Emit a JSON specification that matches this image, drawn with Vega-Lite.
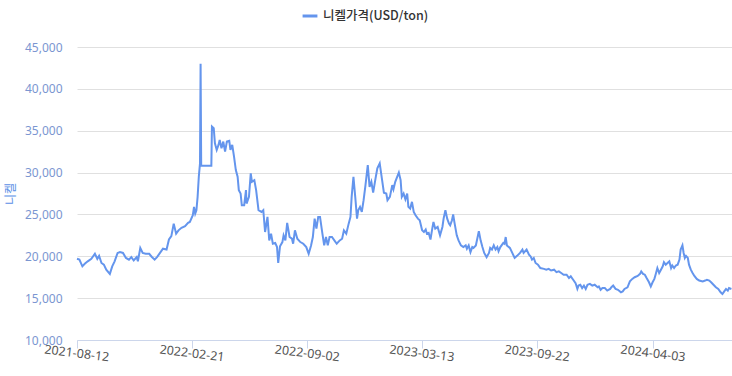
{
  "$schema": "https://vega.github.io/schema/vega-lite/v6.json",
  "autosize": "none",
  "width": 655,
  "height": 293,
  "padding": {"left": 77, "top": 47, "right": 0, "bottom": 36},
  "background": "#ffffff",
  "config": {"view": {"stroke": null}, "font": "Noto Sans"},
  "data": {"values": [
{"date":"2021-08-12","price":19700},{"date":"2021-08-16","price":19600},{"date":"2021-08-21","price":18800},{"date":"2021-08-25","price":19100},{"date":"2021-08-30","price":19400},{"date":"2021-09-05","price":19700},{"date":"2021-09-11","price":20300},{"date":"2021-09-15","price":19700},{"date":"2021-09-18","price":20050},{"date":"2021-09-22","price":19200},{"date":"2021-09-26","price":19000},{"date":"2021-09-30","price":18400},{"date":"2021-10-06","price":17900},{"date":"2021-10-10","price":18800},{"date":"2021-10-14","price":19400},{"date":"2021-10-19","price":20400},{"date":"2021-10-23","price":20500},{"date":"2021-10-28","price":20400},{"date":"2021-11-02","price":19800},{"date":"2021-11-07","price":19600},{"date":"2021-11-11","price":19900},{"date":"2021-11-15","price":19500},{"date":"2021-11-20","price":19900},{"date":"2021-11-22","price":19400},{"date":"2021-11-26","price":21000},{"date":"2021-11-30","price":20400},{"date":"2021-12-05","price":20300},{"date":"2021-12-11","price":20300},{"date":"2021-12-15","price":19950},{"date":"2021-12-20","price":19600},{"date":"2021-12-24","price":19900},{"date":"2021-12-29","price":20400},
{"date":"2022-01-03","price":20900},{"date":"2022-01-09","price":20800},{"date":"2022-01-13","price":22000},{"date":"2022-01-17","price":22400},{"date":"2022-01-21","price":23900},{"date":"2022-01-25","price":22700},{"date":"2022-01-29","price":23100},{"date":"2022-02-03","price":23400},{"date":"2022-02-09","price":23600},{"date":"2022-02-14","price":24000},{"date":"2022-02-17","price":24100},{"date":"2022-02-22","price":24900},{"date":"2022-02-24","price":25900},{"date":"2022-02-26","price":25100},{"date":"2022-02-28","price":25500},{"date":"2022-03-02","price":27100},{"date":"2022-03-04","price":29500},{"date":"2022-03-06","price":31100},{"date":"2022-03-07","price":43000},{"date":"2022-03-08","price":30800},{"date":"2022-03-25","price":30800},{"date":"2022-03-26","price":35500},{"date":"2022-03-29","price":35300},{"date":"2022-03-31","price":33500},{"date":"2022-04-03","price":32700},{"date":"2022-04-06","price":33300},{"date":"2022-04-08","price":33900},{"date":"2022-04-11","price":32900},{"date":"2022-04-14","price":33700},{"date":"2022-04-17","price":32500},{"date":"2022-04-20","price":33700},{"date":"2022-04-24","price":33800},{"date":"2022-04-26","price":32700},{"date":"2022-04-29","price":33300},{"date":"2022-05-02","price":31900},{"date":"2022-05-05","price":30300},{"date":"2022-05-08","price":29500},{"date":"2022-05-10","price":27900},{"date":"2022-05-13","price":27500},{"date":"2022-05-15","price":26100},{"date":"2022-05-19","price":26100},{"date":"2022-05-22","price":27900},{"date":"2022-05-23","price":26300},{"date":"2022-05-27","price":27100},{"date":"2022-05-30","price":29900},{"date":"2022-06-01","price":28900},{"date":"2022-06-05","price":29100},{"date":"2022-06-08","price":27900},{"date":"2022-06-12","price":25500},{"date":"2022-06-17","price":25300},{"date":"2022-06-20","price":25500},{"date":"2022-06-23","price":22900},{"date":"2022-06-27","price":24700},{"date":"2022-06-30","price":21900},{"date":"2022-07-03","price":22700},{"date":"2022-07-06","price":21500},{"date":"2022-07-10","price":21600},{"date":"2022-07-13","price":21100},{"date":"2022-07-15","price":19200},{"date":"2022-07-18","price":21200},{"date":"2022-07-22","price":21700},{"date":"2022-07-24","price":22500},{"date":"2022-07-27","price":21900},{"date":"2022-07-30","price":24000},{"date":"2022-08-03","price":22300},{"date":"2022-08-07","price":22100},{"date":"2022-08-09","price":21500},{"date":"2022-08-12","price":23100},{"date":"2022-08-16","price":22100},{"date":"2022-08-21","price":21700},{"date":"2022-08-26","price":21500},{"date":"2022-08-31","price":21100},{"date":"2022-09-04","price":20300},{"date":"2022-09-08","price":21300},{"date":"2022-09-11","price":22300},{"date":"2022-09-14","price":24500},{"date":"2022-09-17","price":23300},{"date":"2022-09-20","price":24700},{"date":"2022-09-23","price":24700},{"date":"2022-09-27","price":22700},{"date":"2022-09-30","price":21300},{"date":"2022-10-03","price":22300},{"date":"2022-10-06","price":21300},{"date":"2022-10-09","price":22300},{"date":"2022-10-13","price":22300},{"date":"2022-10-17","price":21900},{"date":"2022-10-21","price":21500},{"date":"2022-10-26","price":21900},{"date":"2022-10-30","price":22100},{"date":"2022-11-02","price":23100},{"date":"2022-11-06","price":22700},{"date":"2022-11-10","price":23900},{"date":"2022-11-13","price":24700},{"date":"2022-11-15","price":27100},{"date":"2022-11-18","price":29500},{"date":"2022-11-21","price":27100},{"date":"2022-11-24","price":24500},{"date":"2022-11-26","price":25500},{"date":"2022-11-29","price":25900},{"date":"2022-12-02","price":25300},{"date":"2022-12-05","price":26700},{"date":"2022-12-08","price":28400},{"date":"2022-12-12","price":30900},{"date":"2022-12-15","price":28300},{"date":"2022-12-18","price":28900},{"date":"2022-12-21","price":27600},{"date":"2022-12-25","price":29300},{"date":"2022-12-28","price":30500},
{"date":"2023-01-01","price":31100},{"date":"2023-01-05","price":29100},{"date":"2023-01-08","price":27600},{"date":"2023-01-12","price":27500},{"date":"2023-01-14","price":26700},{"date":"2023-01-18","price":27100},{"date":"2023-01-22","price":28500},{"date":"2023-01-24","price":28000},{"date":"2023-01-27","price":28900},{"date":"2023-02-02","price":30000},{"date":"2023-02-05","price":29100},{"date":"2023-02-07","price":27100},{"date":"2023-02-10","price":27500},{"date":"2023-02-13","price":26800},{"date":"2023-02-16","price":27500},{"date":"2023-02-18","price":25900},{"date":"2023-02-21","price":25700},{"date":"2023-02-24","price":26500},{"date":"2023-02-27","price":25300},{"date":"2023-03-02","price":24900},{"date":"2023-03-06","price":24500},{"date":"2023-03-09","price":24300},{"date":"2023-03-13","price":23100},{"date":"2023-03-16","price":22900},{"date":"2023-03-19","price":23200},{"date":"2023-03-21","price":22700},{"date":"2023-03-24","price":22800},{"date":"2023-03-27","price":22000},{"date":"2023-03-30","price":23300},{"date":"2023-04-01","price":24100},{"date":"2023-04-04","price":23300},{"date":"2023-04-08","price":23500},{"date":"2023-04-12","price":22500},{"date":"2023-04-16","price":23500},{"date":"2023-04-18","price":24500},{"date":"2023-04-21","price":25500},{"date":"2023-04-24","price":24500},{"date":"2023-04-27","price":23900},{"date":"2023-04-29","price":23700},{"date":"2023-05-02","price":24300},{"date":"2023-05-04","price":25000},{"date":"2023-05-06","price":24100},{"date":"2023-05-10","price":22500},{"date":"2023-05-13","price":21900},{"date":"2023-05-17","price":21300},{"date":"2023-05-21","price":21100},{"date":"2023-05-25","price":21300},{"date":"2023-05-27","price":20900},{"date":"2023-05-30","price":21300},{"date":"2023-06-02","price":20500},{"date":"2023-06-05","price":21100},{"date":"2023-06-07","price":21000},{"date":"2023-06-11","price":21300},{"date":"2023-06-16","price":23000},{"date":"2023-06-19","price":21900},{"date":"2023-06-22","price":21100},{"date":"2023-06-25","price":20400},{"date":"2023-06-29","price":19900},{"date":"2023-07-03","price":20400},{"date":"2023-07-05","price":21000},{"date":"2023-07-08","price":20800},{"date":"2023-07-11","price":21300},{"date":"2023-07-14","price":20800},{"date":"2023-07-17","price":21100},{"date":"2023-07-19","price":20600},{"date":"2023-07-22","price":21100},{"date":"2023-07-27","price":21600},{"date":"2023-07-29","price":21500},{"date":"2023-07-31","price":22300},{"date":"2023-08-02","price":21300},{"date":"2023-08-07","price":21000},{"date":"2023-08-11","price":20400},{"date":"2023-08-15","price":19800},{"date":"2023-08-19","price":20050},{"date":"2023-08-24","price":20400},{"date":"2023-08-28","price":20800},{"date":"2023-08-30","price":20400},{"date":"2023-09-04","price":20800},{"date":"2023-09-08","price":20200},{"date":"2023-09-11","price":19950},{"date":"2023-09-13","price":19600},{"date":"2023-09-16","price":19800},{"date":"2023-09-19","price":19200},{"date":"2023-09-23","price":19000},{"date":"2023-09-27","price":18600},{"date":"2023-10-03","price":18500},{"date":"2023-10-07","price":18400},{"date":"2023-10-11","price":18500},{"date":"2023-10-15","price":18300},{"date":"2023-10-20","price":18400},{"date":"2023-10-24","price":18100},{"date":"2023-10-28","price":18200},{"date":"2023-11-01","price":18000},{"date":"2023-11-05","price":17800},{"date":"2023-11-10","price":17800},{"date":"2023-11-14","price":17400},{"date":"2023-11-17","price":17600},{"date":"2023-11-21","price":17200},{"date":"2023-11-25","price":16800},{"date":"2023-11-28","price":16100},{"date":"2023-11-30","price":16500},{"date":"2023-12-03","price":16600},{"date":"2023-12-06","price":16200},{"date":"2023-12-09","price":16500},{"date":"2023-12-12","price":16100},{"date":"2023-12-15","price":16600},{"date":"2023-12-19","price":16700},{"date":"2023-12-23","price":16500},{"date":"2023-12-27","price":16600},
{"date":"2024-01-01","price":16300},{"date":"2024-01-03","price":16400},{"date":"2024-01-06","price":16000},{"date":"2024-01-09","price":16200},{"date":"2024-01-13","price":16200},{"date":"2024-01-17","price":15900},{"date":"2024-01-22","price":16100},{"date":"2024-01-24","price":16300},{"date":"2024-01-27","price":16500},{"date":"2024-01-31","price":16100},{"date":"2024-02-04","price":16000},{"date":"2024-02-09","price":15700},{"date":"2024-02-12","price":15800},{"date":"2024-02-15","price":16100},{"date":"2024-02-20","price":16300},{"date":"2024-02-24","price":17000},{"date":"2024-02-28","price":17300},{"date":"2024-03-03","price":17500},{"date":"2024-03-08","price":17650},{"date":"2024-03-12","price":17900},{"date":"2024-03-14","price":18200},{"date":"2024-03-17","price":17900},{"date":"2024-03-20","price":17800},{"date":"2024-03-23","price":17400},{"date":"2024-03-27","price":16900},{"date":"2024-03-30","price":16400},{"date":"2024-04-02","price":16900},{"date":"2024-04-05","price":17300},{"date":"2024-04-07","price":17800},{"date":"2024-04-10","price":18600},{"date":"2024-04-13","price":18000},{"date":"2024-04-16","price":18400},{"date":"2024-04-19","price":18800},{"date":"2024-04-21","price":19300},{"date":"2024-04-24","price":19000},{"date":"2024-04-27","price":19200},{"date":"2024-04-30","price":19400},{"date":"2024-05-03","price":18600},{"date":"2024-05-05","price":18900},{"date":"2024-05-08","price":18600},{"date":"2024-05-11","price":18900},{"date":"2024-05-14","price":19000},{"date":"2024-05-17","price":19600},{"date":"2024-05-19","price":20800},{"date":"2024-05-22","price":21300},{"date":"2024-05-24","price":20400},{"date":"2024-05-26","price":19800},{"date":"2024-05-28","price":20050},{"date":"2024-05-31","price":19800},{"date":"2024-06-02","price":19000},{"date":"2024-06-05","price":18400},{"date":"2024-06-08","price":18000},{"date":"2024-06-11","price":17650},{"date":"2024-06-15","price":17300},{"date":"2024-06-19","price":17100},{"date":"2024-06-25","price":17000},{"date":"2024-06-29","price":17100},{"date":"2024-07-02","price":17200},{"date":"2024-07-06","price":17100},{"date":"2024-07-09","price":16900},{"date":"2024-07-13","price":16600},{"date":"2024-07-17","price":16300},{"date":"2024-07-21","price":16100},{"date":"2024-07-25","price":15700},{"date":"2024-07-28","price":15500},{"date":"2024-07-31","price":15800},{"date":"2024-08-03","price":16100},{"date":"2024-08-06","price":15900},{"date":"2024-08-08","price":16200},{"date":"2024-08-12","price":16100}
  ]},
  "mark": {"type": "line", "strokeWidth": 2, "interpolate": "linear"},
  "encoding": {
    "x": {
      "field": "date",
      "type": "temporal",
      "scale": {
        "type": "utc",
        "domain": [
          {"year": 2021, "month": 8, "date": 12, "utc": true},
          {"year": 2024, "month": 8, "date": 13, "utc": true}
        ]
      },
      "axis": {
        "title": null,
        "grid": false,
        "values": [
          {"year": 2021, "month": 8, "date": 12, "utc": true},
          {"year": 2022, "month": 2, "date": 21, "utc": true},
          {"year": 2022, "month": 9, "date": 2, "utc": true},
          {"year": 2023, "month": 3, "date": 13, "utc": true},
          {"year": 2023, "month": 9, "date": 22, "utc": true},
          {"year": 2024, "month": 4, "date": 3, "utc": true}
        ],
        "labelExpr": "utcFormat(datum.value, '%Y-%m-%d')",
        "domainColor": "#ccd6eb",
        "tickColor": "#ccd6eb",
        "tickSize": 8,
        "labelAngle": 7,
        "labelAlign": "center",
        "labelBaseline": "top",
        "labelPadding": -1,
        "labelColor": "#555555",
        "labelFontSize": 12.5,
        "labelFont": "Noto Sans",
        "labelOverlap": false,
        "labelFlush": false
      }
    },
    "y": {
      "field": "price",
      "type": "quantitative",
      "scale": {"domain": [10000, 45000], "nice": false, "zero": false},
      "axis": {
        "title": "니켈",
        "titleFont": "Noto Sans CJK KR",
        "titleFontWeight": "normal",
        "titleFontSize": 12,
        "titleColor": "#5b8fe6",
        "titleAngle": -90,
        "titleX": -67,
        "titleY": 146.5,
        "titleAlign": "center",
        "titleBaseline": "middle",
        "values": [10000, 15000, 20000, 25000, 30000, 35000, 40000, 45000],
        "format": ",d",
        "domain": false,
        "ticks": false,
        "labelPadding": 15,
        "labelColor": "#7b96d1",
        "labelFontSize": 12,
        "labelFont": "Noto Sans",
        "gridColor": "#e0e0e0",
        "gridWidth": 1
      }
    },
    "color": {
      "datum": "니켈가격(USD/ton)",
      "type": "nominal",
      "scale": {"range": ["#6495ed"]},
      "legend": {
        "title": null,
        "orient": "none",
        "legendX": 224,
        "legendY": -40,
        "padding": 0,
        "symbolType": "stroke",
        "symbolStrokeWidth": 3,
        "symbolSize": 220,
        "labelFont": "Noto Sans CJK KR",
        "labelFontSize": 12.5,
        "labelFontWeight": 500,
        "labelColor": "#333333",
        "labelOffset": 4
      }
    }
  }
}
